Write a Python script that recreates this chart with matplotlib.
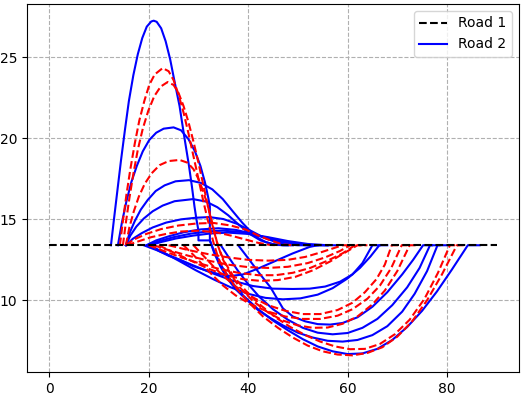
import matplotlib
matplotlib.use("Agg")
import matplotlib.pyplot as plt

# reference level (Road 1)
road1_x = [0, 90]
road1_y = [13.4, 13.4]

# Road 2 trajectories (blue, solid), (x, y) points
blue_paths = [
    [(12.4, 13.4), (13.0, 15.0), (13.7, 16.8), (14.4, 18.6), (15.2, 20.5), (16.0, 22.3), (16.9, 23.9),
     (17.8, 25.2), (18.7, 26.2), (19.6, 26.9), (20.5, 27.22), (21.0, 27.27), (21.6, 27.2), (22.5, 26.8),
     (23.4, 26.0), (24.3, 24.9), (25.2, 23.5), (26.2, 22.0), (27.1, 20.2), (28.1, 18.3), (28.7, 17.0),
     (29.2, 15.8), (29.6, 15.0), (30.0, 14.3), (30.0, 13.7), (32.3, 13.7), (33.2, 13.0), (34.5, 12.2),
     (36.5, 11.2), (39, 10.3), (42, 9.45), (45, 8.75), (48, 8.15), (51, 7.6), (54, 7.15), (57, 6.85),
     (60, 6.68), (63, 6.72), (66, 7.0), (69, 7.55), (72, 8.35), (75, 9.35), (78, 10.55), (81, 11.9),
     (84.2, 13.4), (86.6, 13.4)],
    [(13.8, 13.4), (14.6, 14.8), (15.5, 16.1), (16.5, 17.3), (17.6, 18.3), (18.8, 19.2), (20.1, 19.9),
     (21.5, 20.35), (23.0, 20.6), (25.0, 20.68), (26.5, 20.5), (28.0, 19.95), (29.3, 19.2), (30.4, 18.3),
     (31.3, 17.3), (32.0, 16.3), (32.3, 15.8), (32.3, 13.7), (33.2, 12.9), (34.4, 12.1), (35.8, 11.35),
     (37.6, 10.65), (39.8, 10.0), (42, 9.4), (44.5, 8.9), (47, 8.45), (50, 8.0), (53, 7.7), (56, 7.5),
     (59, 7.45), (62, 7.55), (65, 7.85), (68, 8.4), (71, 9.3), (73.5, 10.4), (76, 11.8), (78.1, 13.4),
     (80, 13.4)],
    [(15.4, 13.4), (16.2, 14.2), (17.2, 14.9), (18.4, 15.6), (19.8, 16.2), (21.4, 16.75), (23.2, 17.1),
     (25.4, 17.35), (28.1, 17.42), (30.5, 17.25), (32.8, 16.85), (34.9, 16.25), (36.9, 15.5), (38.8, 14.8),
     (40.5, 14.25), (42.0, 13.85), (43.5, 13.6), (45.5, 13.42), (48, 13.4)],
    [(15.4, 13.4), (16.3, 14.0), (17.5, 14.55), (19, 15.05), (20.8, 15.5), (22.8, 15.85), (25.2, 16.12),
     (28.9, 16.25), (31.5, 16.1), (33.8, 15.75), (36, 15.25), (38.2, 14.65), (40.3, 14.1), (42.5, 13.7),
     (44.8, 13.48), (47, 13.4), (49, 13.4)],
    [(15.4, 13.4), (16.8, 13.8), (18.6, 14.15), (20.8, 14.5), (23.5, 14.8), (26.5, 15.0), (29.5, 15.1),
     (32.2, 15.14), (35, 15.02), (37.8, 14.72), (40.5, 14.3), (43, 13.9), (45.5, 13.6), (48, 13.45),
     (50, 13.4), (52, 13.4)],
    [(19.5, 13.4), (21.5, 13.7), (24, 13.95), (27, 14.2), (30.5, 14.38), (34, 14.45), (37.5, 14.35),
     (41, 14.1), (44, 13.8), (47, 13.57), (50, 13.44), (52, 13.4), (54, 13.4)],
    [(19.8, 13.4), (22, 13.65), (25, 13.9), (28.5, 14.12), (32, 14.26), (35, 14.3), (38.5, 14.22),
     (42, 14.0), (45.5, 13.75), (49, 13.55), (52, 13.43), (54, 13.4), (56, 13.4)],
    [(20.2, 13.4), (22.5, 13.6), (25.5, 13.82), (29, 14.0), (32.5, 14.13), (36, 14.18), (40, 14.1),
     (44, 13.9), (48, 13.66), (52, 13.48), (56, 13.4), (58, 13.4)],
    [(34.5, 13.4), (36, 12.7), (38, 11.8), (40, 11.0), (42.3, 10.2), (45, 9.45), (48, 8.8), (51, 8.3),
     (54, 8.0), (57, 7.9), (60, 7.98), (63, 8.3), (66, 8.85), (69, 9.7), (72, 10.8), (74.5, 12.0),
     (76.6, 13.4), (78.5, 13.4)],
    [(38, 13.4), (40, 12.6), (42.3, 11.65), (44.5, 10.8), (47, 9.5), (49, 9.0), (51.5, 8.7), (54, 8.53),
     (56.5, 8.5), (59, 8.6), (62, 8.95), (65, 9.6), (68, 10.5), (71, 11.6), (73.2, 12.5), (75.2, 13.4),
     (77, 13.4)],
    [(20.2, 13.4), (23, 12.95), (26, 12.45), (29.5, 11.85), (33, 11.3), (36.5, 10.8), (40, 10.4),
     (43.5, 10.15), (47, 10.06), (50.5, 10.12), (54, 10.35), (57, 10.75), (60, 11.35), (62.5, 12.0),
     (64.6, 12.7), (66.4, 13.4), (68, 13.4)],
    [(19, 13.4), (22, 13.05), (25.5, 12.6), (29, 12.15), (33, 11.65), (37, 11.2), (41, 10.88), (45, 10.72),
     (49, 10.7), (52.4, 10.72), (55.5, 10.85), (58.5, 11.15), (61, 11.6), (63, 12.3), (65, 13.4),
     (66.5, 13.4)],
    [(20.2, 13.4), (22, 13.05), (24, 12.75), (26.2, 12.5), (29, 12.1), (32, 11.8), (34.3, 11.6),
     (36.5, 11.5), (39, 11.6), (42.3, 12.0), (46, 12.5), (49, 12.9), (52.4, 13.3), (54, 13.4), (56, 13.4)],
]

# other trajectories (red, dashed)
red_paths = [
    [(14.2, 13.4), (14.8, 14.9), (15.5, 16.5), (16.3, 18.1), (17.2, 19.7), (18.1, 21.1), (19.1, 22.3),
     (20.1, 23.3), (21.2, 23.95), (22.8, 24.34), (24.0, 24.15), (25.0, 23.6), (26.0, 22.7), (27.0, 21.6),
     (28.0, 20.3), (29.0, 18.9), (30.0, 17.5), (31.0, 16.1), (32.0, 14.8), (33.0, 13.6), (34.0, 12.6),
     (35.5, 11.7), (37.5, 10.8), (40, 9.9), (43, 9.0), (46, 8.3), (49, 7.7), (52, 7.2), (55, 6.85),
     (58, 6.65), (61, 6.6), (64, 6.75), (67, 7.1), (70, 7.75), (73, 8.7), (76, 10.0), (79, 11.6),
     (82, 13.4), (84, 13.4)],
    [(14.8, 13.4), (15.4, 14.8), (16.1, 16.3), (16.9, 17.8), (17.8, 19.3), (18.8, 20.6), (19.9, 21.7),
     (21.1, 22.6), (22.4, 23.2), (23.8, 23.48), (25.0, 23.3), (26.0, 22.8), (27.0, 22.0), (28.0, 21.0),
     (29.0, 19.8), (30.0, 18.5), (31.0, 17.1), (32.0, 15.7), (33.0, 14.4), (34.0, 13.3), (35.2, 12.4),
     (37, 11.5), (39.5, 10.6), (42.5, 9.7), (45.5, 8.95), (48.5, 8.35), (51.5, 7.85), (54.5, 7.45),
     (57.5, 7.15), (60.5, 6.98), (63.5, 7.0), (66.5, 7.3), (69.5, 7.9), (72.5, 8.8), (75.5, 10.1),
     (78.2, 11.7), (80.6, 13.4), (82.5, 13.4)],
    [(15.4, 13.4), (16.1, 14.5), (17.0, 15.5), (18.0, 16.4), (19.2, 17.2), (20.6, 17.85), (22.2, 18.35),
     (24.0, 18.6), (26.2, 18.67), (27.8, 18.5), (29.0, 18.1), (30.0, 17.5), (31.0, 16.7), (32.0, 15.7),
     (33.0, 14.5), (33.8, 13.5), (34.8, 12.6), (36.3, 11.7), (38.3, 10.8), (41, 9.95), (44, 9.25),
     (47, 8.75), (50, 8.45), (53, 8.3), (56, 8.32), (59, 8.55), (62, 9.0), (65, 9.75), (67.5, 10.6),
     (70, 11.8), (72.5, 13.4), (74, 13.4)],
    [(15.4, 13.4), (17, 13.75), (19.5, 14.1), (22.5, 14.4), (26, 14.62), (29.5, 14.74), (33, 14.78),
     (36.5, 14.62), (39.6, 14.36), (42, 14.0), (44.5, 13.7), (47, 13.45), (49, 13.4)],
    [(15.6, 13.4), (18, 13.65), (20.5, 13.9), (23.5, 14.1), (26.5, 14.25), (30, 14.3), (33.5, 14.2),
     (36.5, 14.0), (39.5, 13.75), (42, 13.55), (44.5, 13.42), (46, 13.4)],
    [(27, 13.4), (29, 12.8), (31, 12.15), (33, 11.5), (35, 10.9), (37.5, 10.3), (40.5, 9.75), (44, 9.3),
     (47.5, 9.0), (51, 8.85), (54.5, 8.85), (58, 9.05), (61, 9.45), (64, 10.1), (66.5, 10.9), (68.8, 12.0),
     (70.9, 13.4), (72.5, 13.4)],
    [(29, 13.4), (31, 12.75), (33, 12.1), (35, 11.5), (37.5, 10.85), (40.5, 10.25), (44, 9.7), (47.5, 9.35),
     (51, 9.15), (54.5, 9.15), (58, 9.4), (61, 9.85), (63.5, 10.5), (65.8, 11.3), (67.5, 12.2),
     (68.9, 13.4), (70.5, 13.4)],
    [(20, 13.4), (23, 13.05), (26.5, 12.65), (30, 12.3), (34, 11.95), (38, 11.7), (42, 11.55), (45.5, 11.55),
     (49, 11.7), (52.5, 12.0), (56, 12.45), (59, 12.9), (61.5, 13.4), (63, 13.4)],
    [(21, 13.4), (24, 13.1), (28, 12.75), (32, 12.45), (36, 12.2), (40, 12.05), (44, 12.0), (48, 12.07),
     (52, 12.3), (55.5, 12.65), (58.5, 13.05), (60.5, 13.4), (62, 13.4)],
    [(22, 13.4), (25, 12.95), (28.5, 12.45), (32, 11.95), (35.5, 11.55), (39, 11.3), (42.5, 11.2),
     (46, 11.25), (49.5, 11.45), (53, 11.85), (56.5, 12.4), (59.5, 12.95), (62, 13.4), (64, 13.4)],
    [(24, 13.4), (28, 13.1), (32, 12.85), (36, 12.65), (40, 12.5), (44, 12.45), (48, 12.5), (51.5, 12.68),
     (54.5, 12.95), (57, 13.2), (59, 13.4), (61, 13.4)],
]

fig = plt.figure(figsize=(5.27, 3.95), dpi=100)
ax = fig.add_axes([0.0512, 0.058, 0.9336, 0.932])

for path in blue_paths:
    xs, ys = zip(*path)
    ax.plot(xs, ys, color="blue", linewidth=1.5)
for path in red_paths:
    xs, ys = zip(*path)
    ax.plot(xs, ys, color="red", linestyle="--", linewidth=1.5)

ax.plot(road1_x, road1_y, color="black", linestyle="--", linewidth=1.5)

# legend proxies
h1, = ax.plot([], [], color="black", linestyle="--", label="Road 1")
h2, = ax.plot([], [], color="blue", label="Road 2")
ax.legend(handles=[h1, h2], loc="upper right")

ax.set_xticks([0, 20, 40, 60, 80])
ax.set_yticks([10, 15, 20, 25])
ax.grid(True, linestyle="--", color="#b0b0b0", linewidth=0.8)

fig.savefig("out.png", dpi=100)
